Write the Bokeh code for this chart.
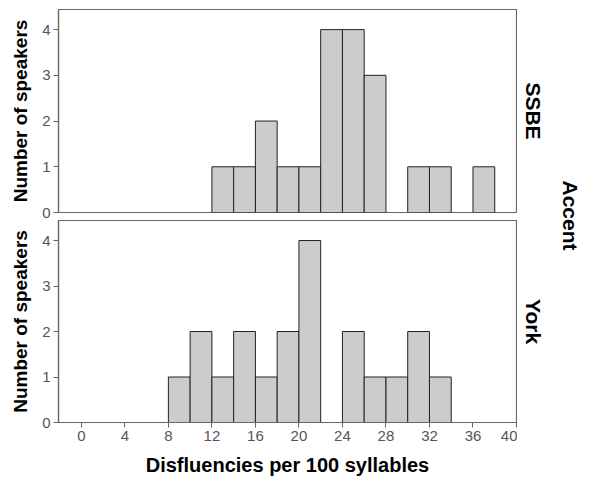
import math
from bokeh.plotting import figure
from bokeh.layouts import column, row
from bokeh.models import Range1d, Label, FixedTicker, ColumnDataSource
from bokeh.embed import file_html
from bokeh.resources import INLINE

# ---- data ----
bin_starts = [8, 10, 12, 14, 16, 18, 20, 22, 24, 26, 28, 30, 32, 34, 36]
bin_width = 2
ssbe_counts = [0, 0, 1, 1, 2, 1, 1, 4, 4, 3, 0, 1, 1, 0, 1]
york_counts = [1, 2, 1, 2, 1, 2, 4, 0, 2, 1, 1, 2, 1, 0, 0]
accents = ["SSBE", "York"]
x_ticks = [0, 4, 8, 12, 16, 20, 24, 28, 32, 36, 40]
y_ticks = [0, 1, 2, 3, 4]
x_title = "Disfluencies per 100 syllables"
y_title = "Number of speakers"
facet_title = "Accent"

FONT = "Liberation Sans"
AXIS_COLOR = "#666666"
TICK_TEXT = "#555555"

# layout (pixels)
PANEL_W = 517
LEFT = 58
P1_TOP, P1_FRAME, P1_BOTTOM = 9, 203, 7
P2_TOP, P2_FRAME, P2_BOTTOM = 1, 202, 57
P1_H = P1_TOP + P1_FRAME + P1_BOTTOM
P2_H = P2_TOP + P2_FRAME + P2_BOTTOM
TOTAL_H = P1_H + P2_H
SIDE_W = 72


def style_axis(ax, title, title_size, title_standoff):
    ax.axis_label = title
    ax.axis_label_text_font = FONT
    ax.axis_label_text_font_style = "bold"
    ax.axis_label_text_font_size = title_size
    ax.axis_label_text_color = "black"
    ax.axis_label_standoff = title_standoff
    ax.major_label_text_font = FONT
    ax.major_label_text_font_size = "15px"
    ax.major_label_text_color = TICK_TEXT
    ax.major_label_standoff = 3
    ax.major_tick_out = 5
    ax.major_tick_in = 0
    ax.minor_tick_line_color = None
    ax.axis_line_color = AXIS_COLOR
    ax.major_tick_line_color = AXIS_COLOR
    ax.axis_line_width = 1.2


def make_panel(counts, height, show_x, mb_top, mb_bottom):
    p = figure(width=PANEL_W, height=height, output_backend="svg", toolbar_location=None,
               x_range=Range1d(-2.1, 40), y_range=Range1d(0, 4.44),
               min_border_left=LEFT, min_border_right=1,
               min_border_top=mb_top, min_border_bottom=mb_bottom)
    src = ColumnDataSource(dict(
        left=[s for s, c in zip(bin_starts, counts) if c > 0],
        right=[s + bin_width for s, c in zip(bin_starts, counts) if c > 0],
        top=[c for c in counts if c > 0],
    ))
    p.quad(left="left", right="right", top="top", bottom=0, source=src,
           fill_color="#cccccc", line_color="#222222", line_width=1)
    p.xgrid.visible = False
    p.ygrid.visible = False
    p.outline_line_color = AXIS_COLOR
    p.outline_line_width = 1.2

    p.yaxis.ticker = FixedTicker(ticks=y_ticks)
    style_axis(p.yaxis[0], y_title, "19px", 8)

    if show_x:
        p.xaxis.ticker = FixedTicker(ticks=x_ticks)
        style_axis(p.xaxis[0], x_title, "20px", 10)
    else:
        p.xaxis.visible = False
    return p


p1 = make_panel(ssbe_counts, P1_H, False, P1_TOP, P1_BOTTOM)
p2 = make_panel(york_counts, P2_H, True, P2_TOP, P2_BOTTOM)

# side strip with facet labels (pixel coordinates, y measured from bottom)
p3 = figure(width=SIDE_W, height=TOTAL_H, output_backend="svg", toolbar_location=None,
            x_range=Range1d(0, SIDE_W), y_range=Range1d(0, TOTAL_H),
            min_border=0, min_border_left=0, min_border_right=0,
            min_border_top=0, min_border_bottom=0)
p3.axis.visible = False
p3.grid.visible = False
p3.outline_line_color = None

p1_center = TOTAL_H - (P1_TOP + P1_FRAME / 2)
p2_center = TOTAL_H - (P1_H + P2_TOP + P2_FRAME / 2)
for txt, yc in zip(accents, [p1_center, p2_center]):
    p3.add_layout(Label(x=16, y=yc, text=txt, angle=-math.pi / 2,
                        text_align="center", text_baseline="middle", text_font=FONT,
                        text_font_size="21px", text_font_style="bold", text_color="black"))
p3.add_layout(Label(x=53, y=TOTAL_H - (P1_TOP + P1_FRAME + 3), text=facet_title,
                    angle=-math.pi / 2, text_align="center", text_baseline="middle",
                    text_font=FONT, text_font_size="21px", text_font_style="bold",
                    text_color="black"))

layout = row(column(p1, p2, spacing=0), p3, spacing=0)

open("out.html", "w").write(file_html(layout, INLINE))
